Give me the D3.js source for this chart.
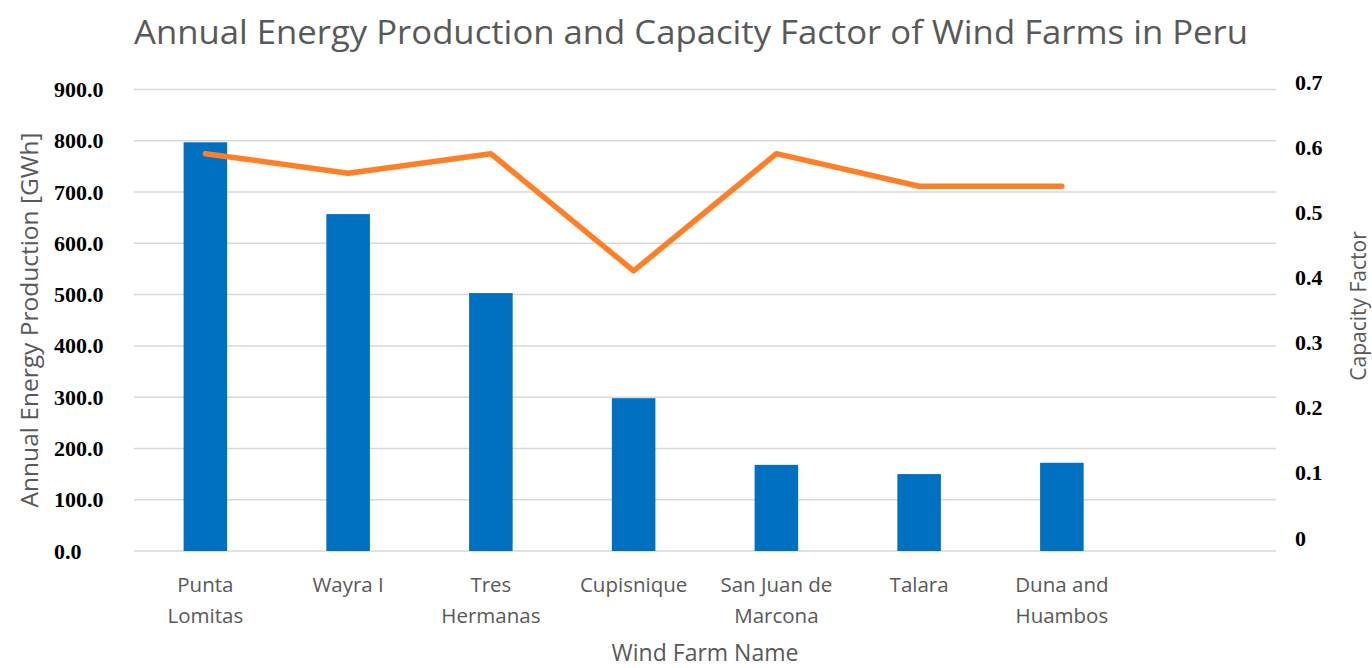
<!DOCTYPE html>
<html>
<head>
<meta charset="utf-8">
<script src="https://cdn.jsdelivr.net/npm/d3@7"></script>
<style>
  body { margin: 0; background: #fff; }
  svg { display: block; }
</style>
</head>
<body>
<svg id="chart" width="1372" height="668"></svg>
<script>
const categories = ["Punta Lomitas", "Wayra I", "Tres Hermanas", "Cupisnique", "San Juan de Marcona", "Talara", "Duna and Huambos"];
const categoryLines = [["Punta", "Lomitas"], ["Wayra I"], ["Tres", "Hermanas"], ["Cupisnique"], ["San Juan de", "Marcona"], ["Talara"], ["Duna and", "Huambos"]];
const energyGWh = [797, 657, 503, 298, 168, 150, 172];
const capacityFactor = [0.59, 0.56, 0.59, 0.41, 0.59, 0.54, 0.54];
const leftTicks = [0, 100, 200, 300, 400, 500, 600, 700, 800, 900];
const rightTicks = [0, 0.1, 0.2, 0.3, 0.4, 0.5, 0.6, 0.7];

const svg = d3.select("#chart");
const plotLeft = 134, plotRight = 1276;

const x = d3.scaleBand()
  .domain(categories.concat(["__empty__"]))
  .range([plotLeft, plotRight])
  .paddingInner(0).paddingOuter(0);

const y = d3.scaleLinear().domain([0, 900]).range([551, 89.5]);
const y2 = d3.scaleLinear().domain([0, 0.7]).range([538, 82]);

const gray = "#595959";

// Title
svg.append("text")
  .attr("x", 691).attr("y", 44)
  .attr("text-anchor", "middle")
  .attr("font-family", "'Open Sans', sans-serif")
  .attr("font-size", 33)
  .attr("textLength", 1114)
  .attr("lengthAdjust", "spacingAndGlyphs")
  .attr("fill", gray)
  .text("Annual Energy Production and Capacity Factor of Wind Farms in Peru");

// Gridlines
svg.append("g")
  .selectAll("line")
  .data(leftTicks)
  .join("line")
  .attr("x1", plotLeft).attr("x2", plotRight)
  .attr("y1", d => y(d)).attr("y2", d => y(d))
  .attr("stroke", "#d9d9d9").attr("stroke-width", 1.5);

// Left axis
const leftAxis = svg.append("g")
  .attr("transform", `translate(54,0)`)
  .call(d3.axisRight(y).tickValues(leftTicks).tickFormat(d3.format(".1f")).tickSize(0).tickPadding(0));
leftAxis.select(".domain").remove();
leftAxis.selectAll("text")
  .attr("font-family", "'Liberation Serif', serif")
  .attr("font-weight", "bold")
  .attr("font-size", 22)
  .attr("fill", "#000")
  .attr("text-anchor", "start")
  .attr("x", 0)
  .attr("dy", "0.32em");

// Right axis
const rightAxis = svg.append("g")
  .attr("transform", `translate(1295,0)`)
  .call(d3.axisRight(y2).tickValues(rightTicks).tickFormat(d => d === 0 ? "0" : d3.format(".1f")(d)).tickSize(0).tickPadding(0));
rightAxis.select(".domain").remove();
rightAxis.selectAll("text")
  .attr("font-family", "'Liberation Serif', serif")
  .attr("font-weight", "bold")
  .attr("font-size", 22)
  .attr("fill", "#000")
  .attr("text-anchor", "start")
  .attr("x", 0)
  .attr("dy", "0.32em");

// Bars
const barW = x.bandwidth() * 0.305;
svg.append("g")
  .selectAll("rect")
  .data(categories)
  .join("rect")
  .attr("x", (d) => x(d) + x.bandwidth() / 2 - barW / 2)
  .attr("width", barW)
  .attr("y", (d, i) => y(energyGWh[i]))
  .attr("height", (d, i) => y(0) - y(energyGWh[i]))
  .attr("fill", "#0070C0");

// Line
const line = d3.line()
  .x((d, i) => x(categories[i]) + x.bandwidth() / 2)
  .y(d => y2(d));
svg.append("path")
  .datum(capacityFactor)
  .attr("d", line)
  .attr("fill", "none")
  .attr("stroke", "#FF7F27")
  .attr("stroke-width", 5.5)
  .attr("stroke-linejoin", "round")
  .attr("stroke-linecap", "round");

// Category labels
const catG = svg.append("g");
categories.forEach((c, i) => {
  const t = catG.append("text")
    .attr("x", x(c) + x.bandwidth() / 2)
    .attr("y", 592)
    .attr("text-anchor", "middle")
    .attr("font-family", "'Open Sans', sans-serif")
    .attr("font-size", 20.5)
    .attr("fill", gray);
  categoryLines[i].forEach((ln, j) => {
    t.append("tspan")
      .attr("x", x(c) + x.bandwidth() / 2)
      .attr("dy", j === 0 ? 0 : 31)
      .text(ln);
  });
});

// X axis title
svg.append("text")
  .attr("x", 705).attr("y", 661)
  .attr("text-anchor", "middle")
  .attr("font-family", "'Open Sans', sans-serif")
  .attr("font-size", 23)
  .attr("fill", gray)
  .text("Wind Farm Name");

// Left axis title
svg.append("text")
  .attr("transform", "translate(38,320) rotate(-90)")
  .attr("text-anchor", "middle")
  .attr("font-family", "'Open Sans', sans-serif")
  .attr("font-size", 24.5)
  .attr("fill", gray)
  .text("Annual Energy Production [GWh]");

// Right axis title
svg.append("text")
  .attr("transform", "translate(1366,306) rotate(-90)")
  .attr("text-anchor", "middle")
  .attr("font-family", "'Open Sans', sans-serif")
  .attr("font-size", 21)
  .attr("fill", gray)
  .text("Capacity Factor");
</script>
</body>
</html>
